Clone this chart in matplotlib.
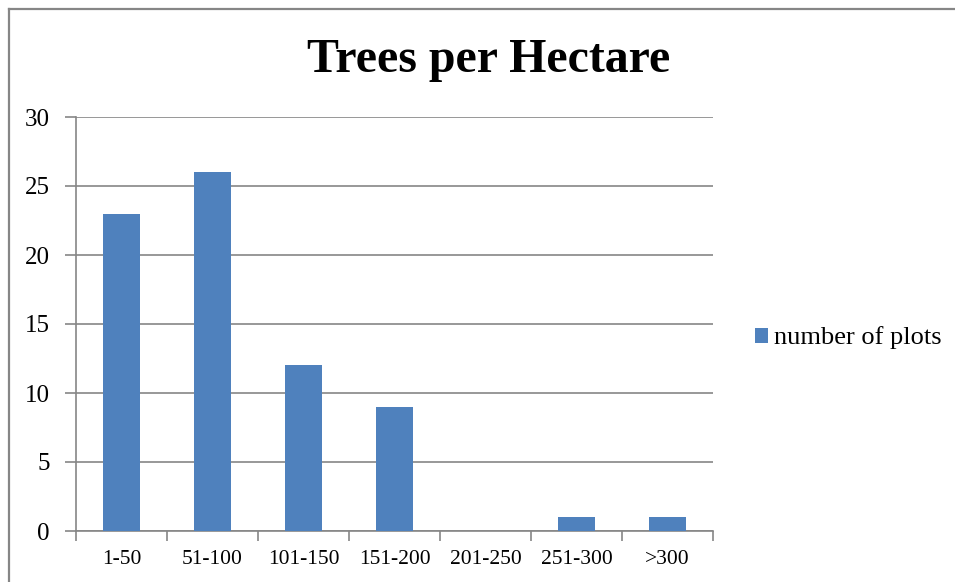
import matplotlib
matplotlib.use("Agg")
import matplotlib.pyplot as plt
from matplotlib.lines import Line2D
from matplotlib.patches import Patch

categories = ["1-50", "51-100", "101-150", "151-200", "201-250", "251-300", ">300"]
number_of_plots = [23, 26, 12, 9, 0, 1, 1]
y_ticks = [0, 5, 10, 15, 20, 25, 30]

W, H = 955, 582
plt.rcParams['font.family'] = ['Liberation Serif', 'DejaVu Serif']
fig = plt.figure(figsize=(W / 100, H / 100), dpi=100)

ax = fig.add_axes([76 / W, 1 - 531 / H, (713 - 76) / W, (531 - 117) / H])
bar_color = "#4F81BD"
grey = "#868686"
x = list(range(len(categories)))
ax.bar(x, number_of_plots, width=0.41, color=bar_color, zorder=3)
ax.set_xlim(-0.5, len(categories) - 0.5)
ax.set_ylim(0, 30)
ax.set_yticks(y_ticks)
ax.set_yticklabels([str(v) for v in y_ticks], fontsize=18)
ax.yaxis.grid(True, color=grey, linewidth=1.2, zorder=0)
ax.set_axisbelow(True)

# category labels and boundary ticks
ax.set_xticks(x)
ax.set_xticklabels(categories, fontsize=15.5)
ax.tick_params(axis='x', which='major', length=0, pad=14)
ax.set_xticks([i - 0.5 for i in range(len(categories) + 1)], minor=True)
ax.tick_params(axis='x', which='minor', length=7, width=1.2, color=grey, direction='out')
ax.tick_params(axis='y', length=8, width=1.2, color=grey, direction='out', pad=11)

for s in ["top", "right"]:
    ax.spines[s].set_visible(False)
for s in ["left", "bottom"]:
    ax.spines[s].set_color(grey)
    ax.spines[s].set_linewidth(1.2)

fig.text(489 / W, 1 - 72 / H, "Trees per Hectare", fontsize=34.5, fontweight='bold',
         ha='center', va='baseline')

handle = Patch(facecolor=bar_color, edgecolor='none')
fig.legend([handle], ["number of plots"], loc='center left',
           bbox_to_anchor=(755 / W, 1 - 338 / H), frameon=False, fontsize=19,
           handlelength=0.5, handleheight=0.5, handletextpad=0.23, borderaxespad=0,
           borderpad=0)

# outer chart border
fig.add_artist(Line2D([8.5 / W, 8.5 / W], [0, 1 - 8.5 / H], transform=fig.transFigure,
                      color=grey, linewidth=1.6))
fig.add_artist(Line2D([8.5 / W, 1], [1 - 8.5 / H, 1 - 8.5 / H], transform=fig.transFigure,
                      color=grey, linewidth=1.6))

fig.savefig("out.png", dpi=100)
